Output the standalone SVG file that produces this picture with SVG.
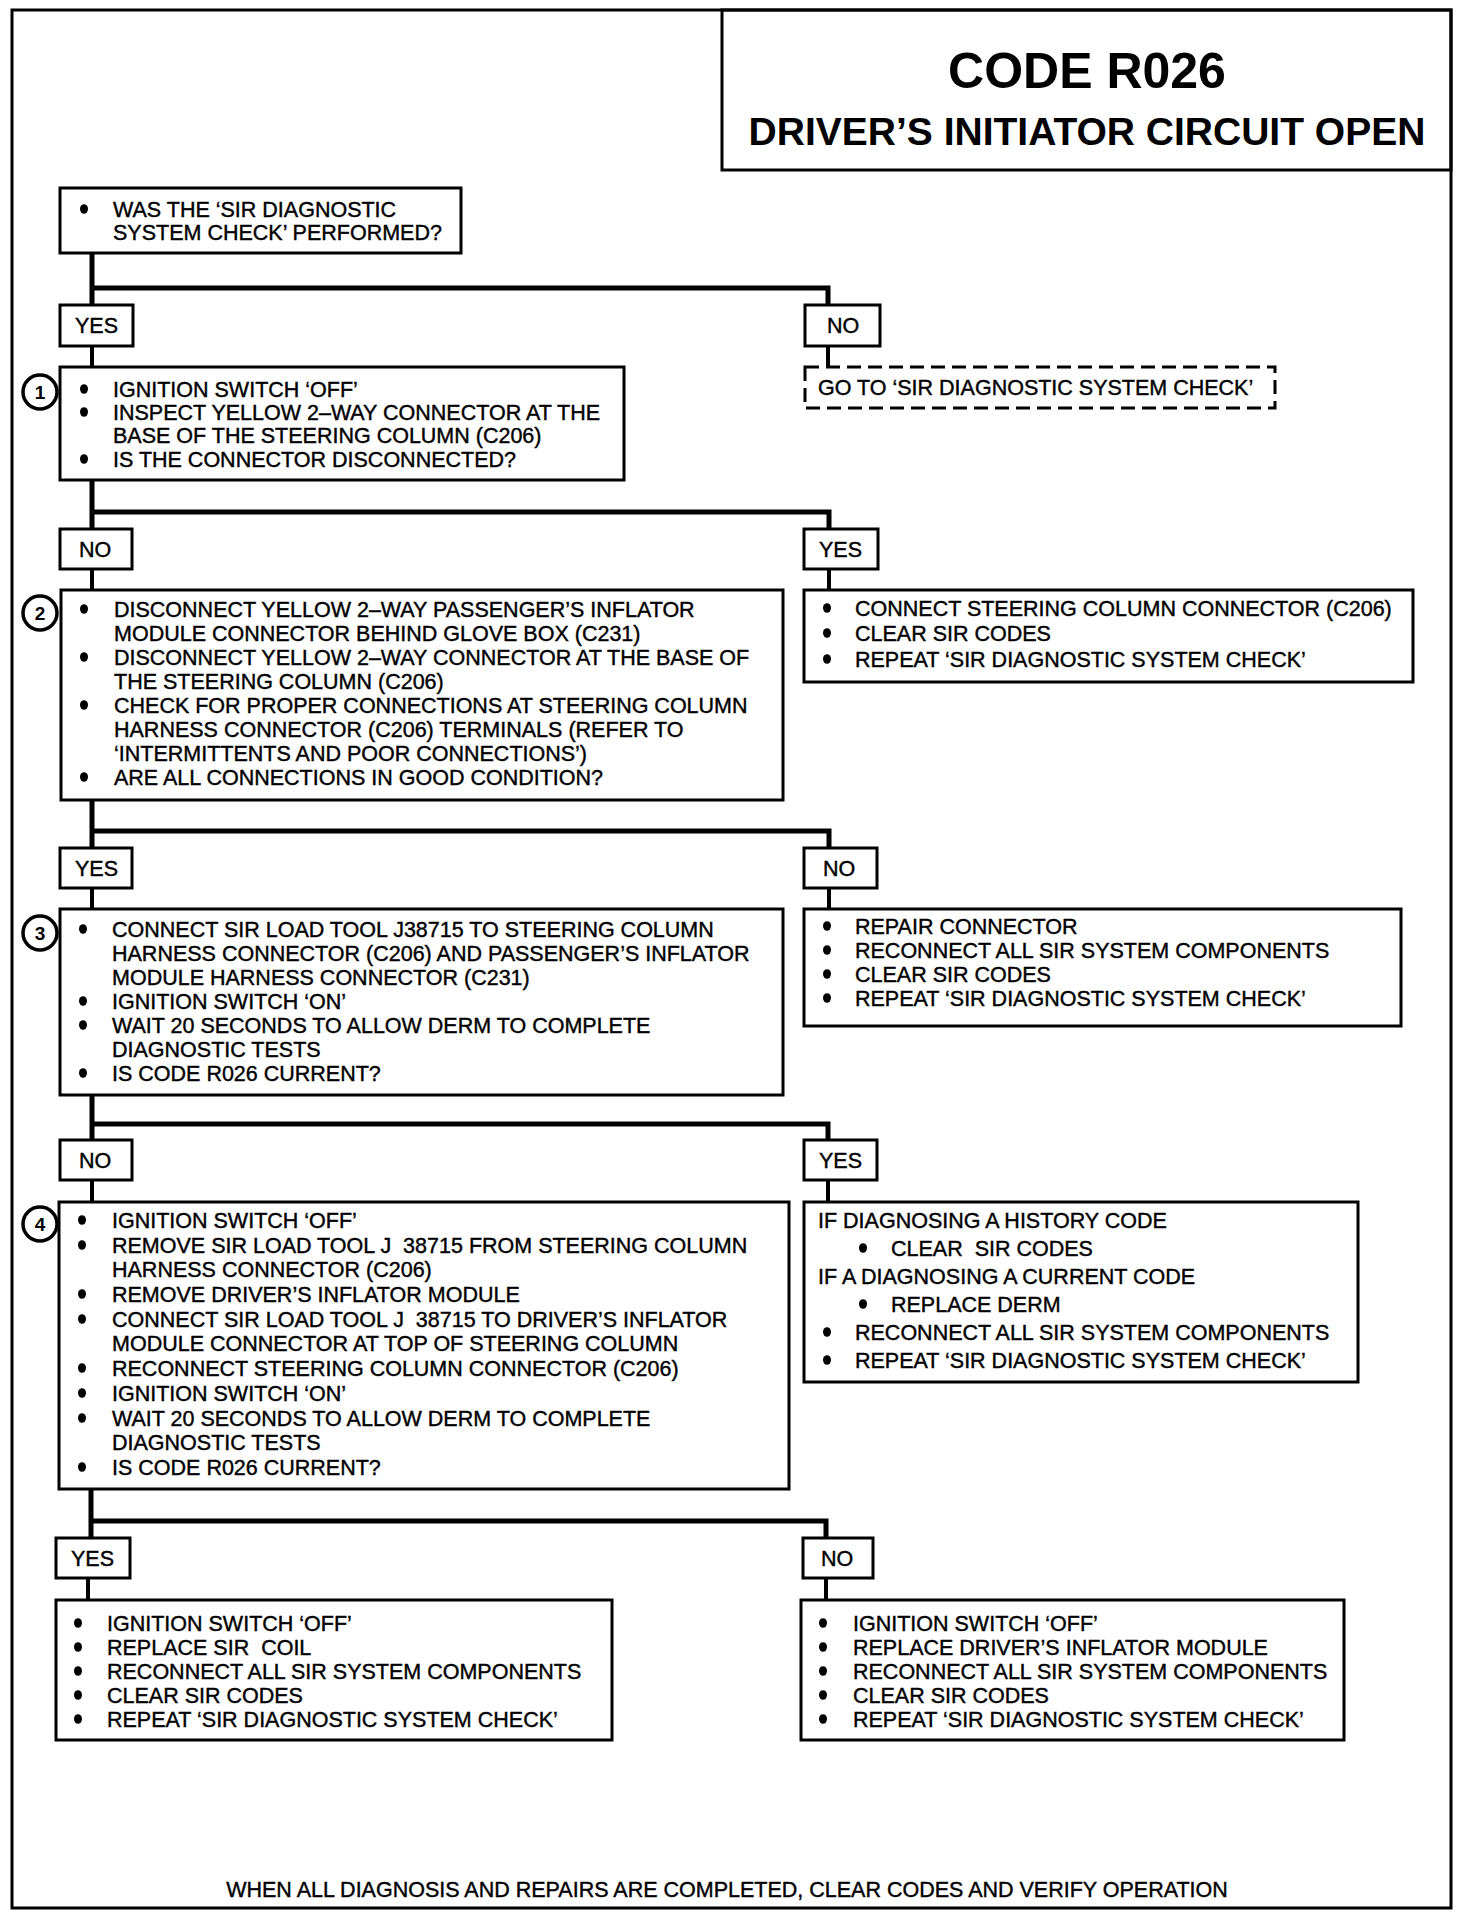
<svg xmlns="http://www.w3.org/2000/svg" width="1472" height="1916" viewBox="0 0 1472 1916">
<defs>
<ellipse id="bul" cx="0" cy="0" rx="4" ry="4.8" fill="#000"/>
</defs>
<style>
.bx{fill:#fff;stroke:#000;stroke-width:3}
.dash{fill:#fff;stroke:#000;stroke-width:3;stroke-dasharray:14 7}
.frame{fill:none;stroke:#000;stroke-width:3}
.cn{fill:none;stroke:#000;stroke-width:5}
.cs{fill:none;stroke:#000;stroke-width:4}
.t{font-family:"Liberation Sans",Arial,sans-serif;font-size:21.5px;fill:#000;stroke:#000;stroke-width:0.4}
.h1{font-family:"Liberation Sans",Arial,sans-serif;font-weight:bold;fill:#000}
.n{font-family:"Liberation Sans",Arial,sans-serif;font-size:19px;font-weight:bold;fill:#000;text-anchor:middle}
.num{fill:#fff;stroke:#000;stroke-width:3.5}
</style>
<rect width="1472" height="1916" fill="#fff"/>
<rect class="frame" x="12" y="10" width="1439" height="1898"/>
<g id="title">
<rect class="frame" x="722" y="10" width="729" height="160"/>
<text class="h1" x="1087" y="88" font-size="50" text-anchor="middle">CODE R026</text>
<text class="h1" x="1087" y="145" font-size="39" text-anchor="middle">DRIVER’S INITIATOR CIRCUIT OPEN</text>
</g>
<g id="connectors">
<path class="cn" d="M92,253 V305 M92,288 H828 V305"/>
<path class="cs" d="M92,346 V367 M828,346 V366"/>
<path class="cn" d="M92,480 V529 M92,512 H829 V529"/>
<path class="cs" d="M92,569 V590 M829,569 V590"/>
<path class="cn" d="M92,800 V848 M92,831 H829 V848"/>
<path class="cs" d="M92,888 V909 M829,888 V909"/>
<path class="cn" d="M92,1095 V1140 M92,1124 H828 V1140"/>
<path class="cs" d="M92,1180 V1202 M828,1180 V1202"/>
<path class="cn" d="M91,1489 V1538 M91,1521 H826 V1538"/>
<path class="cs" d="M88,1578 V1600 M826,1578 V1600"/>
</g>
<g id="q0">
<rect class="bx" x="60" y="188" width="401" height="65"/>
<use href="#bul" x="84" y="209"/>
<text class="t" x="113" y="217">WAS THE ‘SIR DIAGNOSTIC</text>
<text class="t" x="113" y="240">SYSTEM CHECK’ PERFORMED?</text>
</g>
<g id="yes0"><rect class="bx" x="60" y="305" width="73" height="41"/><text class="t" x="75" y="333">YES</text></g>
<g id="no0"><rect class="bx" x="805" y="305" width="75" height="41"/><text class="t" x="827" y="333">NO</text></g>
<g id="goto">
<rect class="dash" x="805" y="367" width="470" height="41"/>
<text class="t" x="818" y="395">GO TO ‘SIR DIAGNOSTIC SYSTEM CHECK’</text>
</g>
<g id="q1">
<rect class="bx" x="60" y="367" width="564" height="113"/>
<circle class="num" cx="40" cy="392" r="17"/>
<text class="n" x="40" y="399">1</text>
<use href="#bul" x="84" y="389"/>
<text class="t" x="113" y="397">IGNITION SWITCH ‘OFF’</text>
<use href="#bul" x="84" y="412"/>
<text class="t" x="113" y="420">INSPECT YELLOW 2–WAY CONNECTOR AT THE</text>
<text class="t" x="113" y="443">BASE OF THE STEERING COLUMN (C206)</text>
<use href="#bul" x="84" y="459"/>
<text class="t" x="113" y="467">IS THE CONNECTOR DISCONNECTED?</text>
</g>
<g id="no1"><rect class="bx" x="60" y="529" width="72" height="40"/><text class="t" x="79" y="557">NO</text></g>
<g id="yes1"><rect class="bx" x="804" y="529" width="74" height="40"/><text class="t" x="819" y="557">YES</text></g>
<g id="q2">
<rect class="bx" x="61" y="590" width="722" height="210"/>
<circle class="num" cx="40" cy="613" r="17"/>
<text class="n" x="40" y="620">2</text>
<use href="#bul" x="84" y="609"/>
<text class="t" x="114" y="617">DISCONNECT YELLOW 2–WAY PASSENGER’S INFLATOR</text>
<text class="t" x="114" y="641">MODULE CONNECTOR BEHIND GLOVE BOX (C231)</text>
<use href="#bul" x="84" y="657"/>
<text class="t" x="114" y="665">DISCONNECT YELLOW 2–WAY CONNECTOR AT THE BASE OF</text>
<text class="t" x="114" y="689">THE STEERING COLUMN (C206)</text>
<use href="#bul" x="84" y="705"/>
<text class="t" x="114" y="713">CHECK FOR PROPER CONNECTIONS AT STEERING COLUMN</text>
<text class="t" x="114" y="737">HARNESS CONNECTOR (C206) TERMINALS (REFER TO</text>
<text class="t" x="114" y="761">‘INTERMITTENTS AND POOR CONNECTIONS’)</text>
<use href="#bul" x="84" y="777"/>
<text class="t" x="114" y="785">ARE ALL CONNECTIONS IN GOOD CONDITION?</text>
</g>
<g id="r1">
<rect class="bx" x="804" y="590" width="609" height="92"/>
<use href="#bul" x="827" y="608"/>
<text class="t" x="855" y="616">CONNECT STEERING COLUMN CONNECTOR (C206)</text>
<use href="#bul" x="827" y="633"/>
<text class="t" x="855" y="641">CLEAR SIR CODES</text>
<use href="#bul" x="827" y="659"/>
<text class="t" x="855" y="667">REPEAT ‘SIR DIAGNOSTIC SYSTEM CHECK’</text>
</g>
<g id="yes2"><rect class="bx" x="60" y="848" width="72" height="40"/><text class="t" x="75" y="876">YES</text></g>
<g id="no2"><rect class="bx" x="804" y="848" width="73" height="40"/><text class="t" x="823" y="876">NO</text></g>
<g id="q3">
<rect class="bx" x="60" y="909" width="723" height="186"/>
<circle class="num" cx="40" cy="933" r="17"/>
<text class="n" x="40" y="940">3</text>
<use href="#bul" x="83" y="929"/>
<text class="t" x="112" y="937">CONNECT SIR LOAD TOOL J38715 TO STEERING COLUMN</text>
<text class="t" x="112" y="961">HARNESS CONNECTOR (C206) AND PASSENGER’S INFLATOR</text>
<text class="t" x="112" y="985">MODULE HARNESS CONNECTOR (C231)</text>
<use href="#bul" x="83" y="1001"/>
<text class="t" x="112" y="1009">IGNITION SWITCH ‘ON’</text>
<use href="#bul" x="83" y="1025"/>
<text class="t" x="112" y="1033">WAIT 20 SECONDS TO ALLOW DERM TO COMPLETE</text>
<text class="t" x="112" y="1057">DIAGNOSTIC TESTS</text>
<use href="#bul" x="83" y="1073"/>
<text class="t" x="112" y="1081">IS CODE R026 CURRENT?</text>
</g>
<g id="r2">
<rect class="bx" x="804" y="909" width="597" height="117"/>
<use href="#bul" x="827" y="926"/>
<text class="t" x="855" y="934">REPAIR CONNECTOR</text>
<use href="#bul" x="827" y="950"/>
<text class="t" x="855" y="958">RECONNECT ALL SIR SYSTEM COMPONENTS</text>
<use href="#bul" x="827" y="974"/>
<text class="t" x="855" y="982">CLEAR SIR CODES</text>
<use href="#bul" x="827" y="998"/>
<text class="t" x="855" y="1006">REPEAT ‘SIR DIAGNOSTIC SYSTEM CHECK’</text>
</g>
<g id="no3"><rect class="bx" x="60" y="1140" width="72" height="40"/><text class="t" x="79" y="1168">NO</text></g>
<g id="yes3"><rect class="bx" x="804" y="1140" width="73" height="40"/><text class="t" x="819" y="1168">YES</text></g>
<g id="q4">
<rect class="bx" x="59" y="1202" width="730" height="287"/>
<circle class="num" cx="40" cy="1224" r="17"/>
<text class="n" x="40" y="1231">4</text>
<use href="#bul" x="82" y="1220"/>
<text class="t" x="112" y="1228">IGNITION SWITCH ‘OFF’</text>
<use href="#bul" x="82" y="1245"/>
<text class="t" x="112" y="1253" xml:space="preserve">REMOVE SIR LOAD TOOL J  38715 FROM STEERING COLUMN</text>
<text class="t" x="112" y="1277">HARNESS CONNECTOR (C206)</text>
<use href="#bul" x="82" y="1294"/>
<text class="t" x="112" y="1302">REMOVE DRIVER’S INFLATOR MODULE</text>
<use href="#bul" x="82" y="1319"/>
<text class="t" x="112" y="1327" xml:space="preserve">CONNECT SIR LOAD TOOL J  38715 TO DRIVER’S INFLATOR</text>
<text class="t" x="112" y="1351">MODULE CONNECTOR AT TOP OF STEERING COLUMN</text>
<use href="#bul" x="82" y="1368"/>
<text class="t" x="112" y="1376">RECONNECT STEERING COLUMN CONNECTOR (C206)</text>
<use href="#bul" x="82" y="1393"/>
<text class="t" x="112" y="1401">IGNITION SWITCH ‘ON’</text>
<use href="#bul" x="82" y="1418"/>
<text class="t" x="112" y="1426">WAIT 20 SECONDS TO ALLOW DERM TO COMPLETE</text>
<text class="t" x="112" y="1450">DIAGNOSTIC TESTS</text>
<use href="#bul" x="82" y="1467"/>
<text class="t" x="112" y="1475">IS CODE R026 CURRENT?</text>
</g>
<g id="r3">
<rect class="bx" x="804" y="1202" width="554" height="180"/>
<text class="t" x="818" y="1228">IF DIAGNOSING A HISTORY CODE</text>
<use href="#bul" x="863" y="1248"/>
<text class="t" x="891" y="1256" xml:space="preserve">CLEAR  SIR CODES</text>
<text class="t" x="818" y="1284">IF A DIAGNOSING A CURRENT CODE</text>
<use href="#bul" x="863" y="1304"/>
<text class="t" x="891" y="1312">REPLACE DERM</text>
<use href="#bul" x="827" y="1332"/>
<text class="t" x="855" y="1340">RECONNECT ALL SIR SYSTEM COMPONENTS</text>
<use href="#bul" x="827" y="1360"/>
<text class="t" x="855" y="1368">REPEAT ‘SIR DIAGNOSTIC SYSTEM CHECK’</text>
</g>
<g id="yes4"><rect class="bx" x="56" y="1538" width="74" height="40"/><text class="t" x="71" y="1566">YES</text></g>
<g id="no4"><rect class="bx" x="803" y="1538" width="70" height="40"/><text class="t" x="821" y="1566">NO</text></g>
<g id="r4">
<rect class="bx" x="56" y="1600" width="556" height="140"/>
<use href="#bul" x="78" y="1623"/>
<text class="t" x="107" y="1631">IGNITION SWITCH ‘OFF’</text>
<use href="#bul" x="78" y="1647"/>
<text class="t" x="107" y="1655" xml:space="preserve">REPLACE SIR  COIL</text>
<use href="#bul" x="78" y="1671"/>
<text class="t" x="107" y="1679">RECONNECT ALL SIR SYSTEM COMPONENTS</text>
<use href="#bul" x="78" y="1695"/>
<text class="t" x="107" y="1703">CLEAR SIR CODES</text>
<use href="#bul" x="78" y="1719"/>
<text class="t" x="107" y="1727">REPEAT ‘SIR DIAGNOSTIC SYSTEM CHECK’</text>
</g>
<g id="r5">
<rect class="bx" x="801" y="1600" width="543" height="140"/>
<use href="#bul" x="823" y="1623"/>
<text class="t" x="853" y="1631">IGNITION SWITCH ‘OFF’</text>
<use href="#bul" x="823" y="1647"/>
<text class="t" x="853" y="1655">REPLACE DRIVER’S INFLATOR MODULE</text>
<use href="#bul" x="823" y="1671"/>
<text class="t" x="853" y="1679">RECONNECT ALL SIR SYSTEM COMPONENTS</text>
<use href="#bul" x="823" y="1695"/>
<text class="t" x="853" y="1703">CLEAR SIR CODES</text>
<use href="#bul" x="823" y="1719"/>
<text class="t" x="853" y="1727">REPEAT ‘SIR DIAGNOSTIC SYSTEM CHECK’</text>
</g>
<g id="footer">
<text class="t" x="727" y="1897" text-anchor="middle">WHEN ALL DIAGNOSIS AND REPAIRS ARE COMPLETED, CLEAR CODES AND VERIFY OPERATION</text>
</g>
</svg>
